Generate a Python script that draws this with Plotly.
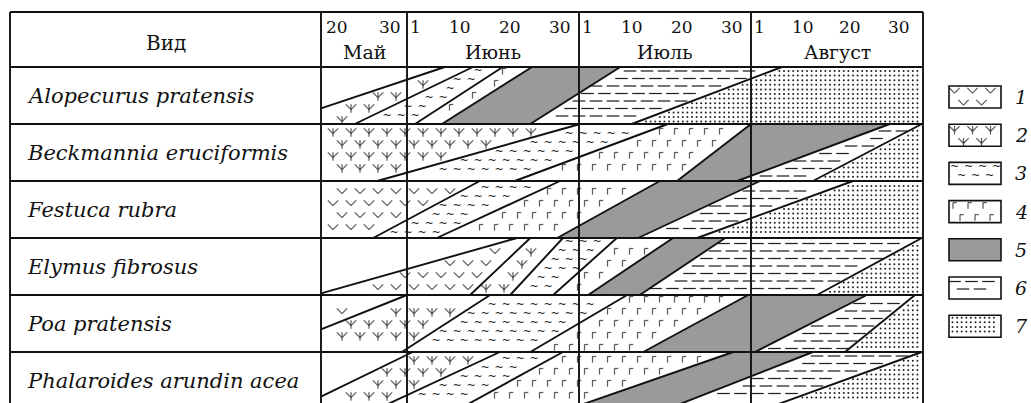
import numpy as np
import plotly.graph_objects as go

# ---------------- data ----------------
species = ["Alopecurus pratensis", "Beckmannia eruciformis", "Festuca rubra",
           "Elymus fibrosus", "Poa pratensis", "Phalaroides arundin acea"]
months = ["Май", "Июнь", "Июль", "Август"]
month_start = [-15, 0, 30, 60]        # days counted from 1 June
month_end = [0, 30, 60, 90]
day_labels = [["20", "30"], ["1", "10", "20", "30"], ["1", "10", "20", "30"], ["1", "10", "20", "30"]]
day_label_pos = [[-12.2, -3.0], [1.5, 9.3, 18.0, 26.7], [31.5, 39.3, 48.0, 56.7], [61.4, 69.1, 77.3, 85.8]]

# phase sequence in each row (0 = no phase), phase boundaries: date at row top / row bottom
phase_seq = [
    [0, 2, 3, 4, 5, 6, 7],
    [2, 3, 4, 5, 6, 7],
    [1, 3, 4, 5, 6, 7],
    [0, 1, 2, 3, 4, 5, 6, 7],
    [1, 2, 3, 4, 5, 6, 7],
    [0, 2, 3, 4, 5, 6, 7],
]
bound_top = [
    [6.6, 11.5, 16.7, 21.8, 37.2, 65.4],
    [30.2, 45.5, 60.0, 84.2, 89.8],
    [12.7, 26.7, 44.1, 61.6, 77.8],
    [19.2, 21.5, 27.2, 36.6, 46.4, 55.5, 89.8],
    [0.0, 14.5, 38.4, 59.5, 80.2, 88.6],
    [1.0, 16.2, 27.2, 56.9, 70.8, 89.8],
]
bound_bot = [
    [-23.2, -9.1, 1.4, 6.1, 21.5, 39.2],
    [-5.2, 18.8, 47.1, 57.6, 70.8],
    [-5.9, 5.2, 26.2, 40.3, 50.6],
    [-16.0, 11.0, 18.0, 25.5, 31.6, 40.6, 71.5],
    [-24.8, -0.9, 21.5, 41.2, 60.7, 76.4],
    [-19.4, -5.2, 9.1, 28.3, 45.4, 62.4],
]
legend_labels = ["1", "2", "3", "4", "5", "6", "7"]

# ---------------- layout constants ----------------
W, H = 1031, 403
PXX = 172 / 30.0       # px per day
PXY = 57.0             # px per row
X0, Y0 = 407.0, 67.0   # pixel of 1 June / top of first row
XMIN, XMAX = month_start[0], month_end[-1]
TABLE_LEFT = (10 - X0) / PXX
HEADER_TOP = (12 - Y0) / PXY
XR = [(0 - X0) / PXX, (W - X0) / PXX]
YR = [(H - Y0) / PXY, (0 - Y0) / PXY]
NROW = len(species)
GRAY = "#9a9a9a"
INK = "#111111"
SYM = "#1a1a1a"

def px2x(p): return (p - X0) / PXX
def px2y(p): return (p - Y0) / PXY

fig = go.Figure()

# ---------- helpers ----------
def clip_poly(poly, a, b, c):
    """keep a*x + b*y + c >= 0"""
    out = []
    n = len(poly)
    for i in range(n):
        P, Q = poly[i], poly[(i + 1) % n]
        fp = a * P[0] + b * P[1] + c
        fq = a * Q[0] + b * Q[1] + c
        if fp >= 0:
            out.append(P)
        if (fp >= 0) != (fq >= 0):
            s = fp / (fp - fq)
            out.append((P[0] + s * (Q[0] - P[0]), P[1] + s * (Q[1] - P[1])))
    return out

def bx(r, k, t):
    return bound_top[r][k] + (bound_bot[r][k] - bound_top[r][k]) * t

def perp_px(r, k, x, t):
    dxp = (bx(r, k, t) - x) * PXX
    slope_dx = (bound_bot[r][k] - bound_top[r][k]) * PXX
    return abs(dxp) * PXY / np.hypot(PXY, slope_dx)

# ---------- gray (phase 5) polygons ----------
for r in range(NROW):
    seq = phase_seq[r]
    for j, ph in enumerate(seq):
        if ph != 5:
            continue
        poly = [(XMIN, r), (XMAX, r), (XMAX, r + 1), (XMIN, r + 1)]
        if j - 1 >= 0:
            k = j - 1
            tp, bt = bound_top[r][k], bound_bot[r][k]
            poly = clip_poly(poly, 1.0, -(bt - tp), -tp + (bt - tp) * r)
        if j < len(bound_top[r]):
            k = j
            tp, bt = bound_top[r][k], bound_bot[r][k]
            poly = clip_poly(poly, -1.0, (bt - tp), tp - (bt - tp) * r)
        if len(poly) >= 3:
            xs = [p[0] for p in poly] + [poly[0][0]]
            ys = [p[1] for p in poly] + [poly[0][1]]
            fig.add_trace(go.Scatter(x=xs, y=ys, mode="lines", fill="toself",
                                     fillcolor=GRAY, line=dict(width=0, color=GRAY),
                                     hoverinfo="skip", showlegend=False))

# ---------- pattern points ----------
patterns = {
    1: dict(dx=18, dy=12, st=9, m=5.0, kind="v"),
    2: dict(dx=18, dy=12, st=9, m=5.0, kind="psi"),
    3: dict(dx=14, dy=9, st=7, m=4.0, kind="tilde"),
    4: dict(dx=15, dy=12, st=7, m=4.0, kind="gamma"),
    6: dict(dx=17, dy=7.5, st=8.5, m=3.0, kind="dash"),
    7: dict(dx=4.6, dy=4.6, st=0, m=1.8, kind="dot"),
}

def grid(p, x0, x1, y0, y1):
    pts = []
    yy = y0
    i = 0
    while yy <= y1:
        xx = x0 + (p["st"] if i % 2 else 0)
        while xx <= x1:
            pts.append((xx, yy))
            xx += p["dx"]
        yy += p["dy"]
        i += 1
    return pts

def add_points(ph, xs, ys):
    p = patterns[ph]
    kind = p["kind"]
    if kind in ("v", "psi", "gamma"):
        mx, my, ms, msz = [], [], [], []
        for x, y in zip(xs, ys):
            if kind in ("v", "psi"):
                s = 5.2              # each arm spans s x s px
                half = s / 2.0
                mx += [x - half / PXX, x + half / PXX]
                my += [y, y]
                ms += ["line-nw", "line-ne"]
                msz += [s, s]
                if kind == "psi":
                    mx.append(x)
                    my.append(y + 1.5 / PXY)
                    ms.append("line-ns")
                    msz.append(6.0)     # ~8.4 px stem
            else:
                mx += [x - 1.5 / PXX, x + 0.4 / PXX]
                my += [y + 0.5 / PXY, y - 2.5 / PXY]
                ms += ["line-ns", "line-ew"]
                msz += [4.4, 2.7]
        fig.add_trace(go.Scatter(x=mx, y=my, mode="markers",
                                 marker=dict(symbol=ms, size=msz, color=SYM,
                                             line=dict(width=1.25, color=SYM)),
                                 hoverinfo="skip", showlegend=False))
    elif kind == "tilde":
        fig.add_trace(go.Scatter(x=xs, y=ys, mode="text", text=["~"] * len(xs),
                                 textposition="middle center",
                                 textfont=dict(size=11, color=SYM, family="DejaVu Sans"),
                                 hoverinfo="skip", showlegend=False))
    elif kind == "dash":
        fig.add_trace(go.Scatter(x=xs, y=ys, mode="markers",
                                 marker=dict(symbol="line-ew", size=9.0,
                                             line=dict(width=1.25, color="#222")),
                                 hoverinfo="skip", showlegend=False))
    else:
        fig.add_trace(go.Scatter(x=xs, y=ys, mode="markers",
                                 marker=dict(symbol="circle", size=2.0, color="#222",
                                             line=dict(width=0)),
                                 hoverinfo="skip", showlegend=False))

for ph, p in patterns.items():
    xs, ys = [], []
    ybot = min(Y0 + NROW * PXY, H - 5)
    for (qx, qy) in grid(p, 322 + 2, 923, Y0 + 4, ybot):
        x, y = px2x(qx), px2y(qy)
        r = int(np.floor(y))
        if r < 0 or r >= NROW:
            continue
        t = y - r
        if t * PXY < p["m"] or (1 - t) * PXY < p["m"]:
            continue
        if (x - XMIN) * PXX < p["m"] or (XMAX - x) * PXX < p["m"]:
            continue
        nb = len(bound_top[r])
        j = sum(1 for k in range(nb) if bx(r, k, t) < x)
        if phase_seq[r][j] != ph:
            continue
        ok = True
        for k in (j - 1, j):
            if 0 <= k < nb and perp_px(r, k, x, t) < p["m"]:
                ok = False
        if ok:
            xs.append(x)
            ys.append(y)
    add_points(ph, xs, ys)

# ---------- boundary lines ----------
for r in range(NROW):
    for k in range(len(bound_top[r])):
        tp, bt = bound_top[r][k], bound_bot[r][k]
        t0, t1 = 0.0, 1.0
        if tp != bt:
            ta = (tp - XMAX) / (tp - bt)
            tb = (tp - XMIN) / (tp - bt)
            t0 = max(t0, min(ta, tb))
            t1 = min(t1, max(ta, tb))
        if t1 <= t0:
            continue
        fig.add_trace(go.Scatter(x=[bx(r, k, t0), bx(r, k, t1)], y=[r + t0, r + t1],
                                 mode="lines", line=dict(color=INK, width=1.9),
                                 hoverinfo="skip", showlegend=False))

# ---------- legend ----------
LEG_X0, LEG_X1 = px2x(949), px2x(1001)
for i, lab in enumerate(legend_labels):
    ph = int(lab)
    cy_px = 97 + 38.2 * i
    y0, y1 = px2y(cy_px - 11), px2y(cy_px + 11)
    if ph in patterns:
        p = patterns[ph]
        m = 4.5 if p["kind"] != "dot" else 2.5
        xs, ys = [], []
        for (qx, qy) in grid(p, 949 + m + 1, 1001 - m, cy_px - 11 + m, cy_px + 11 - m + 0.5):
            xs.append(px2x(qx)); ys.append(px2y(qy))
        add_points(ph, xs, ys)
    fig.add_shape(type="rect", x0=LEG_X0, x1=LEG_X1, y0=y0, y1=y1,
                  line=dict(color=INK, width=1.6),
                  fillcolor=GRAY if ph == 5 else "rgba(0,0,0,0)")
    fig.add_annotation(x=px2x(1021), y=px2y(cy_px), text="<i>" + lab + "</i>",
                       showarrow=False, font=dict(family="DejaVu Serif", size=19, color=INK),
                       xanchor="center", yanchor="middle")

# ---------- table grid ----------
LW = 1.9
bottom = YR[0] + 0.1
for xv in [TABLE_LEFT] + month_start + [month_end[-1]]:
    fig.add_shape(type="line", x0=xv, x1=xv, y0=HEADER_TOP, y1=bottom,
                  line=dict(color=INK, width=LW))
for yv in [HEADER_TOP] + list(range(NROW)):
    fig.add_shape(type="line", x0=TABLE_LEFT, x1=XMAX, y0=yv, y1=yv,
                  line=dict(color=INK, width=LW))

# ---------- header text ----------
HFONT = dict(family="DejaVu Serif", size=19, color=INK)
NFONT = dict(family="DejaVu Serif", size=17, color=INK)
fig.add_annotation(x=(TABLE_LEFT + XMIN) / 2, y=px2y(43), text="Вид", showarrow=False,
                   font=dict(family="DejaVu Serif", size=20, color=INK),
                   xanchor="center", yanchor="middle")
for mi, mname in enumerate(months):
    fig.add_annotation(x=(month_start[mi] + month_end[mi]) / 2, y=px2y(52), text=mname,
                       showarrow=False, font=HFONT, xanchor="center", yanchor="middle")
    for lab, pos in zip(day_labels[mi], day_label_pos[mi]):
        fig.add_annotation(x=pos, y=px2y(27), text=lab, showarrow=False, font=NFONT,
                           xanchor="center", yanchor="middle")

for r, name in enumerate(species):
    fig.add_annotation(x=px2x(25), y=r + 0.5, text="<i>" + name + "</i>", showarrow=False,
                       font=dict(family="DejaVu Serif", size=21, color=INK),
                       xanchor="left", yanchor="middle")

fig.update_layout(
    width=W, height=H, margin=dict(l=0, r=0, t=0, b=0),
    paper_bgcolor="white", plot_bgcolor="white", showlegend=False,
    xaxis=dict(range=XR, visible=False, fixedrange=True),
    yaxis=dict(range=YR, visible=False, fixedrange=True),
)
fig.write_html("out.html", config={"displayModeBar": False},
               post_script="document.body.style.margin='0';document.body.style.overflow='hidden';")
